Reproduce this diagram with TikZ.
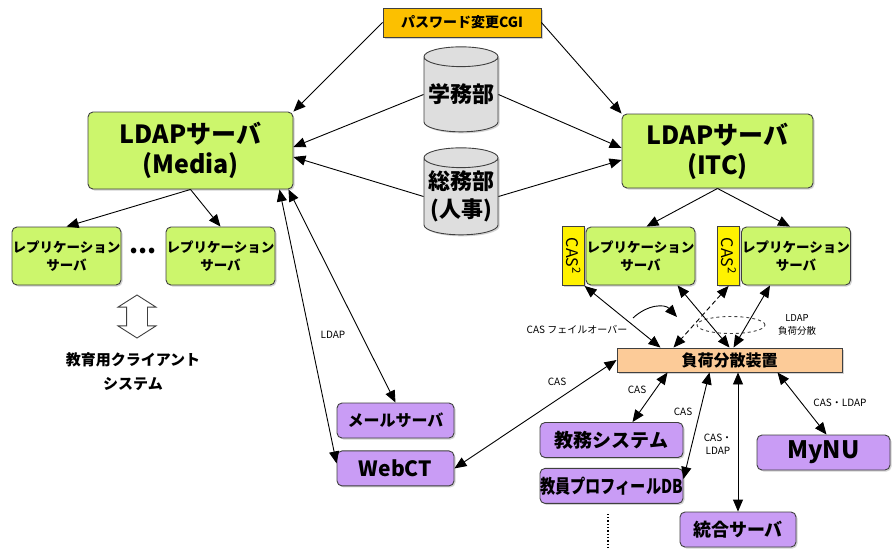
\documentclass[tikz,border=0pt]{standalone}
\usepackage{fontspec}
\setmainfont{Noto Sans CJK JP}
\usepackage{graphicx}
\usetikzlibrary{arrows.meta,positioning,shapes.geometric,shapes.arrows,shadows}
\definecolor{ldapgreen}{HTML}{CCF66C}
\definecolor{cgiorange}{HTML}{FCC000}
\definecolor{dbgrey}{HTML}{DEDEDE}
\definecolor{lbpeach}{HTML}{FCCB98}
\definecolor{casyellow}{HTML}{FFF200}
\definecolor{clientpurple}{HTML}{C99CF5}
\tikzset{
  shadowed/.style={drop shadow={shadow xshift=1.5pt, shadow yshift=-1.5pt, opacity=0.35}},
  srvbox/.style={
    rectangle, rounded corners=5pt, draw=black!75, line width=0.9pt,
    align=center, inner sep=0pt, fill=#1, shadowed
  },
  srvbox/.default=ldapgreen,
  repbox/.style={srvbox, minimum width=109pt, minimum height=58pt,
    font=\fontsize{13.5}{18}\bfseries},
  casbox/.style={srvbox=casyellow, rounded corners=0pt, minimum width=22pt,
    minimum height=59pt, font=\fontsize{16}{16}\selectfont},
  userbox/.style={srvbox=clientpurple, minimum height=35pt},
  dbcyl/.style={
    cylinder, shape border rotate=90, aspect=0.3, draw=black!75,
    line width=0.9pt, fill=dbgrey, minimum width=74pt, inner sep=0pt,
    align=center, font=\fontsize{22}{28}\bfseries, shadowed
  },
  tag/.style={font=\fontsize{10}{13}\selectfont, inner sep=1pt, align=center},
  link/.style={-{Triangle[length=12pt,width=10pt]}, line width=0.9pt},
  duplex/.style={{Triangle[length=12pt,width=10pt]}-{Triangle[length=12pt,width=10pt]}, line width=0.9pt}
}
\begin{document}
\begin{tikzpicture}[x=1pt,y=-1pt]
\useasboundingbox (0,0) rectangle (893,550);

% top: password CGI and the two source DBs
\node[srvbox=cgiorange, rounded corners=0pt, minimum width=158pt, minimum height=29pt,
  font=\fontsize{14}{16}\bfseries] (cgi) at (462,22.5) {パスワード変更CGI};
\node[dbcyl, minimum height=85pt] (gakumu) at (461,94.5) {学務部};
\node[dbcyl, minimum height=87pt] (somu) at (461,196.5) {総務部\\(人事)};

% LDAP servers
\node[srvbox, minimum width=205pt, minimum height=77pt, font=\fontsize{25}{30}\bfseries]
  (ldapm) at (190.5,150.5) {LDAPサーバ\\(Media)};
\node[srvbox, minimum width=191pt, minimum height=74pt, font=\fontsize{25}{30}\bfseries]
  (ldapi) at (717.5,151) {LDAPサーバ\\(ITC)};

% replication servers
\node[repbox] (repl1) at (66.5,256) {レプリケーション\\サーバ};
\node[repbox] (repl2) at (220.5,256) {レプリケーション\\サーバ};
\node[font=\fontsize{26}{26}\bfseries] (moredots) at (143,251) {...};
\node[repbox] (repr1) at (640.5,256) {レプリケーション\\サーバ};
\node[repbox] (repr2) at (796,256) {レプリケーション\\サーバ};
\node[casbox, left=1pt of repr1] (cas1) {\rotatebox{-90}{CAS\textsuperscript{2}}};
\node[casbox, left=1pt of repr2] (cas2) {\rotatebox{-90}{CAS\textsuperscript{2}}};

% client systems (left)
\node[double arrow, draw=black!75, line width=0.9pt, fill=white, rotate=90,
  minimum height=43pt, double arrow head extend=8.5pt, double arrow tip angle=115,
  inner xsep=0pt, inner ysep=10pt] (clientarrow) at (137,316.5) {};
\node[font=\fontsize{15}{24}\bfseries, align=center] (clientlbl) at (133,372)
  {教育用クライアント\\システム};

% load balancer and services
\node[srvbox=lbpeach, rounded corners=0pt, minimum width=225pt, minimum height=24pt,
  font=\fontsize{16}{18}\bfseries] (lb) at (729.5,360) {負荷分散装置};
\node[userbox, minimum width=117pt, font=\fontsize{16}{18}\bfseries] (mail) at (395.5,420.5) {メールサーバ};
\node[userbox, minimum width=117pt, font=\fontsize{21}{22}\bfseries, below=12pt of mail] (webct) {WebCT};
\node[userbox, minimum width=143pt, font=\fontsize{19}{20}\bfseries] (kyomu) at (611.5,440) {教務システム};
\node[userbox, minimum width=143pt, font=\fontsize{19}{20}\bfseries, below=10pt of kyomu]
  (profdb) {\scalebox{0.8}[1]{教員プロフィールDB}};
\node[userbox, minimum width=133pt, font=\fontsize{24}{26}\bfseries] (mynu) at (823.5,452.5) {MyNU};
\node[userbox, minimum width=116pt, font=\fontsize{18}{20}\bfseries] (togo) at (738,529.5) {統合サーバ};

% labels
\node[tag] (ldaptag) at (333,335) {LDAP};
\node[tag] (caswebct) at (557,382) {CAS};
\node[tag] (caskyomu) at (637,390) {CAS};
\node[tag] (casprof) at (683,412) {CAS};
\node[tag] (castogo) at (718,444) {CAS・\\LDAP};
\node[tag] (casmynu) at (840,403) {CAS・LDAP};
\node[tag] (failover) at (577,330) {CAS フェイルオーバー};
\node[tag, font=\fontsize{9.5}{13}\selectfont] (ldapbal) at (797,325) {LDAP\\負荷分散};
\node[draw=black!75, dashed, line width=0.9pt, ellipse, minimum width=68pt,
  minimum height=17pt] (balance) at (731,325) {};

% connectors
\draw[link] (cgi.west) -- (ldapm.north east);
\draw[link] (cgi.east) -- (ldapi.north west);
\draw[link] (gakumu.west) -- ([yshift=3.5pt]ldapm.east);
\draw[link] (somu.west) -- ([yshift=-6.5pt]ldapm.east);
\draw[link] (gakumu.east) -- ([yshift=3pt]ldapi.west);
\draw[link] (somu.east) -- ([yshift=-9pt]ldapi.west);

\draw[link] (ldapm.south) -- (repl1.north);
\draw[link] (ldapm.south) -- (repl2.north);
\draw[link] (ldapi.south) -- ([xshift=6pt]repr1.north);
\draw[link] (ldapi.south) -- ([xshift=-6pt]repr2.north);

\draw[duplex] ([xshift=-14pt]ldapm.south east) -- ([yshift=5pt]webct.west);
\draw[duplex] ([xshift=-5pt]ldapm.south east) -- (mail.north);
\draw[duplex] (webct.east) -- (lb.west);

\draw[duplex] (cas1.south east) -- ([xshift=-69pt]lb.north);
\draw[duplex] ([xshift=37pt]repr1.south) -- (lb.north);
\draw[duplex, dash pattern=on 5pt off 3pt] (cas2.south) -- ([xshift=-56pt]lb.north);
\draw[duplex] ([xshift=-26pt]repr2.south) -- ([xshift=4pt]lb.north);

\coordinate (fostart) at (633,318);
\coordinate (foend) at (677,317);
\draw[link] (fostart) .. controls (648,304) and (665,304) .. (foend);

\draw[duplex] ([xshift=-62pt]lb.south) -- ([xshift=21pt]kyomu.north);
\draw[duplex] ([xshift=-20pt]lb.south) -- ([yshift=7pt]profdb.east);
\draw[duplex] (togo.north) -- (togo.north |- lb.south);
\draw[duplex] ([xshift=48pt]lb.south) -- ([xshift=3pt]mynu.north);

\coordinate (moreend) at (608,550);
\draw[dotted, line width=1.3pt] ([xshift=-3.5pt,yshift=-10pt]profdb.south) -- (moreend);
\end{tikzpicture}
\end{document}
